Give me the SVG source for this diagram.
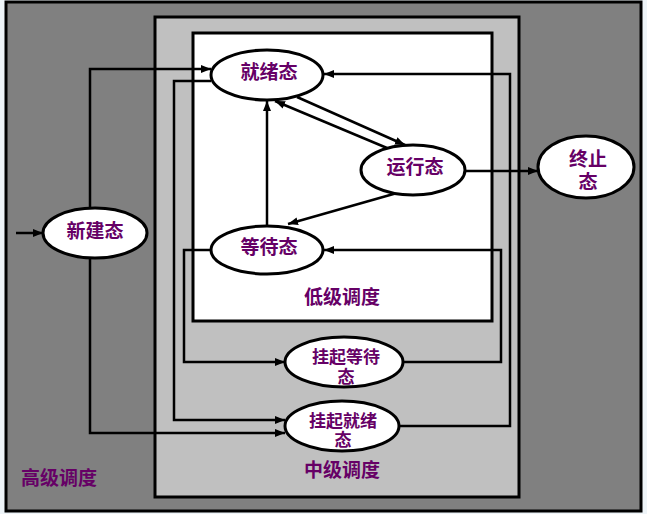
<svg xmlns="http://www.w3.org/2000/svg" width="647" height="514" viewBox="0 0 647 514">
<style>
.box{stroke:#000;stroke-width:3}
.node ellipse{fill:#fff;stroke:#000;stroke-width:3}
.lbl{font-family:"Liberation Sans","Noto Sans CJK SC",sans-serif;font-weight:bold;font-size:19px;fill:#660066;text-anchor:middle}
.sm{font-size:17px}
.conn path,.conn line{fill:none;stroke:#000;stroke-width:2.5}
</style>
<defs>
<marker id="ah" viewBox="0 0 10 10" refX="10" refY="5" markerWidth="4" markerHeight="4" orient="auto" markerUnits="strokeWidth">
<path d="M0,1 L10,5 L0,9 z" fill="#000"/>
</marker>
</defs>
<rect x="0" y="0" width="647" height="514" fill="#eef4f8"/>
<g id="high">
<rect class="box" x="6" y="2" width="635" height="509" fill="#808080"/>
<text class="lbl" x="59" y="485">高级调度</text>
</g>
<g id="mid">
<rect class="box" x="155" y="17" width="364" height="480" fill="#c0c0c0"/>
<text class="lbl" x="342" y="477">中级调度</text>
</g>
<g id="low">
<rect class="box" x="193" y="33" width="299" height="288" fill="#fff"/>
<text class="lbl" x="342" y="304">低级调度</text>
</g>
<g class="conn" id="connectors">
<line x1="16" y1="233" x2="43" y2="233" marker-end="url(#ah)"/>
<path d="M90,208 V69 H211" marker-end="url(#ah)"/>
<path d="M90,258 V433 H285" marker-end="url(#ah)"/>
<path d="M211,81 H174 V420 H285" marker-end="url(#ah)"/>
<path d="M211,250 H184 V362 H285" marker-end="url(#ah)"/>
<path d="M403,362 H501 V250 H324" marker-end="url(#ah)"/>
<path d="M398,426 H510 V74 H324" marker-end="url(#ah)"/>
<line x1="297" y1="97" x2="405" y2="145" marker-end="url(#ah)"/>
<line x1="387" y1="148" x2="275" y2="101" marker-end="url(#ah)"/>
<line x1="267" y1="225" x2="267" y2="101" marker-end="url(#ah)"/>
<line x1="397" y1="193" x2="288" y2="224" marker-end="url(#ah)"/>
<line x1="466" y1="171" x2="538" y2="171" marker-end="url(#ah)"/>
</g>
<g class="node" id="ready">
<ellipse cx="267" cy="75" rx="56" ry="25"/>
<text class="lbl" x="269" y="79">就绪态</text>
</g>
<g class="node" id="running">
<ellipse cx="413" cy="170" rx="52" ry="25"/>
<text class="lbl" x="415" y="174">运行态</text>
</g>
<g class="node" id="terminated">
<ellipse cx="586" cy="167" rx="48" ry="31"/>
<text class="lbl" x="588" y="166">终止</text>
<text class="lbl" x="588" y="189">态</text>
</g>
<g class="node" id="new">
<ellipse cx="95" cy="233" rx="52" ry="25"/>
<text class="lbl" x="95" y="238">新建态</text>
</g>
<g class="node" id="waiting">
<ellipse cx="267" cy="250" rx="56" ry="24"/>
<text class="lbl" x="269" y="254">等待态</text>
</g>
<g class="node" id="susp-wait">
<ellipse cx="344" cy="362" rx="59" ry="25"/>
<text class="lbl sm" x="346" y="363">挂起等待</text>
<text class="lbl sm" x="346" y="383">态</text>
</g>
<g class="node" id="susp-ready">
<ellipse cx="342" cy="426" rx="57" ry="25"/>
<text class="lbl sm" x="343" y="427">挂起就绪</text>
<text class="lbl sm" x="343" y="446">态</text>
</g>
</svg>
